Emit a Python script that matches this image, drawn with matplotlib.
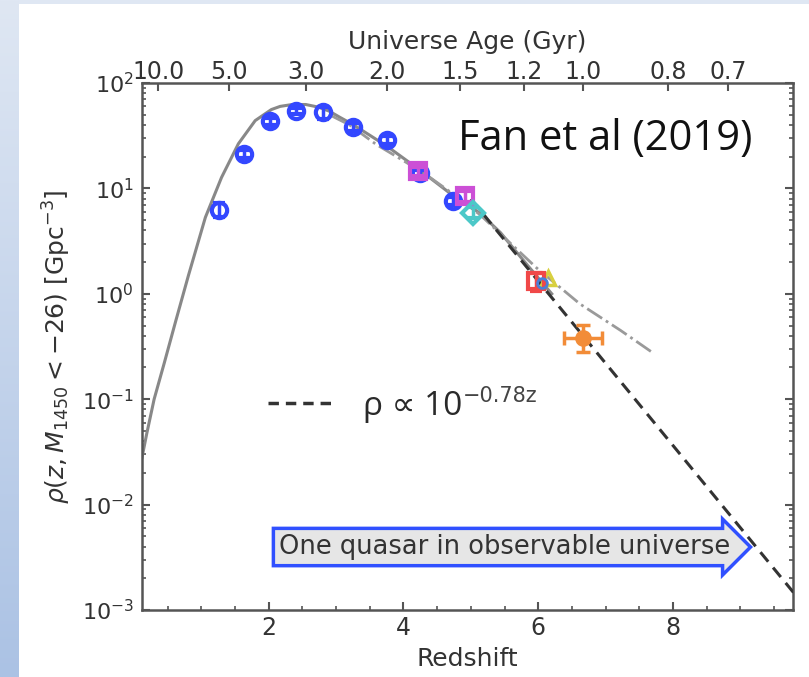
import numpy as np
import matplotlib
matplotlib.use('Agg')
import matplotlib.pyplot as plt
from matplotlib.ticker import LogLocator, MultipleLocator, NullFormatter

# quasar space density, M1450 < -26, in Gpc^-3
blue_z = [1.26, 1.64, 2.02, 2.40, 2.80, 3.25, 3.75, 4.25, 4.74]
blue_rho = [6.3, 21.3, 43.5, 54.5, 52.6, 38.4, 29.0, 13.9, 7.6]
blue_err = [0.9, 2.0, 3.5, 4.0, 7.0, 3.0, 2.5, 1.2, 0.7]

magenta_z = [4.22, 4.91]
magenta_rho = [14.6, 8.5]
magenta_err = [1.5, 1.0]

cyan_z = [5.03]
cyan_rho = [5.9]
cyan_err = [0.7]

red_z = [5.97]
red_rho = [1.31]
red_err = [0.25]

z6_blue_z = [6.05]
z6_blue_rho = [1.26]

yellow_z = [6.15]
yellow_rho = [1.41]

orange_z = [6.66]
orange_rho = [0.381]
orange_zerr = [0.28]
orange_err_lo = [0.098]
orange_err_hi = [0.127]

# model curves
model_z = [0.12, 0.19, 0.30, 0.45, 0.62, 0.81, 1.06, 1.30, 1.55, 1.80, 2.04,
           2.17, 2.35, 2.55, 2.74, 2.90, 3.05, 3.26, 3.76, 4.25, 4.74, 5.14,
           5.44, 5.80, 6.20]
model_rho = [0.028, 0.047, 0.10, 0.22, 0.55, 1.5, 5.3, 12.7, 26.5, 44.0, 56.0,
             60.0, 62.5, 62.5, 59.0, 54.0, 47.5, 40.0, 25.0, 14.8, 8.5, 5.8,
             3.8, 2.0, 1.0]

alt_z = [2.90, 3.20, 3.60, 3.90, 4.30, 4.70, 5.14, 5.98, 6.62, 7.22, 7.72]
alt_rho = [50.0, 40.0, 26.0, 20.0, 14.0, 9.2, 5.6, 1.75, 0.80, 0.45, 0.27]

# exponential decline rho ~ 10^(-0.78 z)
decl_slope = -0.78
decl_log_norm = 4.80
decl_z = [5.0, 10.0]

# universe age axis
age_z = [0.36, 1.41, 2.56, 3.76, 4.84, 5.79, 6.67, 7.93, 8.82]
age_labels = ['10.0', '5.0', '3.0', '2.0', '1.5', '1.2', '1.0', '0.8', '0.7']

plt.rcParams['font.family'] = 'DejaVu Sans'
plt.rcParams['font.size'] = 17
plt.rcParams['mathtext.fontset'] = 'dejavusans'

fig = plt.figure(figsize=(8.09, 6.77), dpi=100)
fig.patch.set_facecolor('white')

# slide background strips
grad = np.linspace(0, 1, 256).reshape(-1, 1)
bg = fig.add_axes([0, 0, 19 / 809, 1])
top_col = np.array([0xdf, 0xe7, 0xf3]) / 255
bot_col = np.array([0xab, 0xc2, 0xe4]) / 255
img = top_col[None, None, :] * (1 - grad[:, :, None]) + bot_col[None, None, :] * grad[:, :, None]
bg.imshow(img, aspect='auto', extent=[0, 1, 0, 1])
bg.axis('off')
strip = fig.add_axes([19 / 809, 1 - 4 / 677, 1 - 19 / 809, 4 / 677])
strip.set_facecolor('#dfe7f3')
strip.set_xticks([])
strip.set_yticks([])
for s in strip.spines.values():
    s.set_visible(False)

ax = fig.add_axes([142 / 809, 67 / 677, 651 / 809, 527 / 677])
ax.set_yscale('log')
ax.set_xlim(0.12, 9.78)
ax.set_ylim(1e-3, 1e2)

spine_col = '#555555'
text_col = '#333333'

ax.plot(model_z, model_rho, color='#888888', lw=2.2, zorder=2)
ax.plot(alt_z, alt_rho, color='#9a9a9a', lw=2.0, ls='-.', zorder=2)
decl_rho = [10 ** (decl_log_norm + decl_slope * z) for z in decl_z]
ax.plot(decl_z, decl_rho, color='#333333', lw=2.2, dashes=(4, 2.5), zorder=3)

ax.errorbar(blue_z, blue_rho, yerr=blue_err, fmt='o', ms=11, mfc='none',
            mec='#3347ff', mew=3, ecolor='#3347ff', elinewidth=2.5, capsize=4,
            capthick=2.5, zorder=4)
ax.errorbar(magenta_z, magenta_rho, yerr=magenta_err, fmt='s', ms=11, mfc='none',
            mec='#cc4fd6', mew=3, ecolor='#cc4fd6', elinewidth=2.5, capsize=4,
            capthick=2.5, zorder=5)
ax.errorbar(cyan_z, cyan_rho, yerr=cyan_err, fmt='D', ms=11, mfc='none',
            mec='#4cc8c8', mew=3, ecolor='#4cc8c8', elinewidth=2.5, capsize=4,
            capthick=2.5, zorder=5)
ax.errorbar(yellow_z, yellow_rho, fmt='^', ms=10, mfc='none', mec='#d8d040',
            mew=2.5, zorder=4)
ax.errorbar(red_z, red_rho, yerr=red_err, fmt='s', ms=12, mfc='none',
            mec='#f04848', mew=3, ecolor='#f04848', elinewidth=2.5, capsize=4,
            capthick=2.5, zorder=5)
ax.errorbar(z6_blue_z, z6_blue_rho, fmt='o', ms=7, mfc='none', mec='#4a7fd8',
            mew=2, zorder=6)
ax.errorbar(orange_z, orange_rho, xerr=orange_zerr,
            yerr=[orange_err_lo, orange_err_hi], fmt='o', ms=11, color='#f28c38',
            ecolor='#f28c38', elinewidth=2.5, capsize=5, capthick=2.5, zorder=6)

# axes styling
for s in ax.spines.values():
    s.set_color(spine_col)
    s.set_linewidth(1.8)
ax.xaxis.set_major_locator(MultipleLocator(2))
ax.xaxis.set_minor_locator(MultipleLocator(0.5))
ax.yaxis.set_major_locator(LogLocator(base=10, numticks=10))
ax.yaxis.set_minor_locator(LogLocator(base=10, subs=np.arange(2, 10), numticks=20))
ax.yaxis.set_minor_formatter(NullFormatter())
ax.tick_params(which='both', direction='in', colors=spine_col, labelcolor=text_col,
               top=False, right=True)
ax.tick_params(which='major', length=6, width=1.5)
ax.tick_params(which='minor', length=3, width=1.2)
ax.tick_params(axis='x', which='major', pad=4, labelsize=17)
ax.tick_params(axis='y', which='major', pad=6, labelsize=16)

ax.set_xlabel('Redshift', fontsize=18, color=text_col, labelpad=5)
ax.set_ylabel(r'$\rho(z, M_{1450} < -26)$ [Gpc$^{-3}$]', fontsize=18,
              color=text_col)
ax.yaxis.set_label_coords(-0.106, 0.5)

ax2 = ax.twiny()
ax2.set_xlim(ax.get_xlim())
ax2.set_xticks(age_z)
ax2.set_xticklabels(age_labels)
ax2.tick_params(direction='in', length=6, width=1.5, colors=spine_col,
                labelcolor=text_col, pad=-1, labelsize=17)
ax2.tick_params(which='minor', top=False, bottom=False)
ax2.set_xlabel('Universe Age (Gyr)', fontsize=18, color=text_col, labelpad=8)
for s in ax2.spines.values():
    s.set_visible(False)

# annotations
ax.text(0.711, 0.873, 'Fan et al (2019)', transform=ax.transAxes, ha='center',
        va='baseline', fontsize=30, family=['Open Sans', 'DejaVu Sans'],
        color='#111111')

ax.plot([0.1935, 0.2965], [0.393, 0.393], transform=ax.transAxes,
        color='#333333', lw=2.5, dashes=(3, 2))
rho_txt = ax.text(0.3395, 0.370, 'ρ ∝ 10', transform=ax.transAxes, ha='left',
                  va='baseline', fontsize=24, family=['Open Sans', 'DejaVu Sans'],
                  color='#2a2a2a')
ax.annotate('−0.78z', xy=(1.0, 0.0), xycoords=rho_txt, xytext=(0, 15),
            textcoords='offset points', ha='left', va='baseline', fontsize=15,
            color='#444444')

ax.text(0.2105, 0.1195, 'One quasar in observable universe', transform=ax.transAxes,
        ha='left', va='center', fontsize=18.5, color=text_col, zorder=7,
        bbox=dict(boxstyle='rarrow,pad=0.22', fc='#e6e6e6', ec='#3050ff', lw=2.5))

fig.savefig('out.png', dpi=100)
